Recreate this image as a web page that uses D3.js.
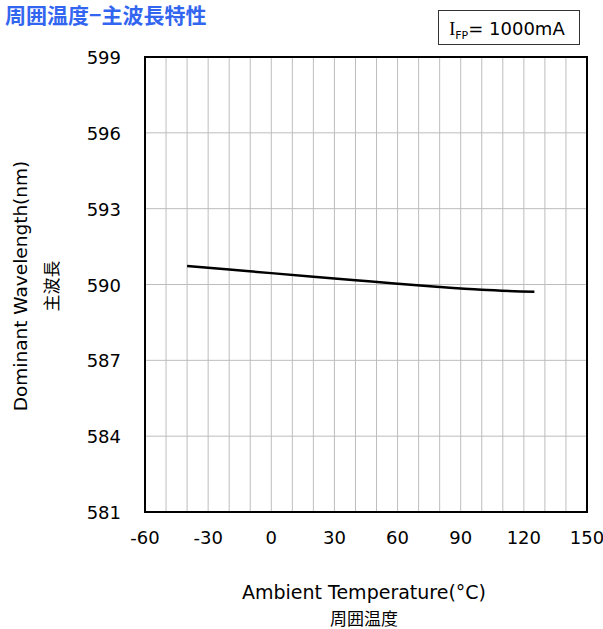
<!DOCTYPE html>
<html>
<head>
<meta charset="utf-8">
<script src="https://cdn.jsdelivr.net/npm/d3@7"></script>
<style>
  body { margin: 0; background: #fff; }
  text { font-family: "DejaVu Sans", Verdana, sans-serif; }
</style>
</head>
<body>
<div id="chart"></div>
<script>
// temperature (°C) vs dominant wavelength (nm)
var temps = [-40, -20, 0, 20, 40, 60, 80, 100, 125];
var waves = [590.73, 590.59, 590.45, 590.31, 590.17, 590.03, 589.90, 589.79, 589.71];
var xTicks = [-60, -30, 0, 30, 60, 90, 120, 150];
var yTicks = [581, 584, 587, 590, 593, 596, 599];

var width = 603, height = 629;
var margin = { left: 145, right: 16, top: 57, bottom: 117 };
var innerW = width - margin.left - margin.right;
var innerH = height - margin.top - margin.bottom;

var svg = d3.select("#chart").append("svg")
    .attr("width", width)
    .attr("height", height);

var x = d3.scaleLinear().domain([-60, 150]).range([0, innerW]);
var y = d3.scaleLinear().domain([581, 599]).range([innerH, 0]);

var g = svg.append("g")
    .attr("transform", "translate(" + margin.left + "," + margin.top + ")");

// vertical grid every 10 degrees
g.selectAll("line.vgrid")
    .data(d3.range(-50, 150, 10))
    .enter().append("line")
    .attr("class", "vgrid")
    .attr("x1", x).attr("x2", x)
    .attr("y1", 0).attr("y2", innerH)
    .attr("stroke", "#bdbdbd").attr("stroke-width", 1);

// horizontal grid at each y tick
g.selectAll("line.hgrid")
    .data(yTicks.slice(1, -1))
    .enter().append("line")
    .attr("class", "hgrid")
    .attr("x1", 0).attr("x2", innerW)
    .attr("y1", y).attr("y2", y)
    .attr("stroke", "#bdbdbd").attr("stroke-width", 1);

// frame
g.append("rect")
    .attr("width", innerW).attr("height", innerH)
    .attr("fill", "none").attr("stroke", "#000").attr("stroke-width", 2);

// tick labels
g.selectAll("text.xt")
    .data(xTicks)
    .enter().append("text")
    .attr("class", "xt")
    .attr("x", x).attr("y", innerH + 32)
    .attr("text-anchor", "middle")
    .attr("font-size", 18)
    .text(function(d) { return d; });

g.selectAll("text.yt")
    .data(yTicks)
    .enter().append("text")
    .attr("class", "yt")
    .attr("x", -24).attr("y", function(d) { return y(d) + 7; })
    .attr("text-anchor", "end")
    .attr("font-size", 18)
    .text(function(d) { return d; });

// curve
var line = d3.line()
    .x(function(d, i) { return x(temps[i]); })
    .y(function(d) { return y(d); })
    .curve(d3.curveMonotoneX);

g.append("path")
    .datum(waves)
    .attr("d", line)
    .attr("fill", "none")
    .attr("stroke", "#000")
    .attr("stroke-width", 2.5);

// title
svg.append("text")
    .attr("x", 5).attr("y", 23)
    .attr("font-size", 21).attr("font-weight", "bold")
    .attr("fill", "#3366f0")
    .style("font-family", "'Noto Sans CJK JP', sans-serif")
    .text("周囲温度−主波長特性");

// condition box
svg.append("rect")
    .attr("x", 438.5).attr("y", 10.5)
    .attr("width", 141).attr("height", 34)
    .attr("fill", "#fff").attr("stroke", "#333").attr("stroke-width", 1);

var cond = svg.append("text")
    .attr("x", 507).attr("y", 35)
    .attr("text-anchor", "middle")
    .attr("font-size", 18);
cond.append("tspan").style("font-family", "'Liberation Serif', serif").text("I");
cond.append("tspan").attr("font-size", 11).attr("dy", 4).text("FP");
cond.append("tspan").attr("dy", -4).text("= 1000mA");

// axis titles
svg.append("text")
    .attr("x", 364).attr("y", 599)
    .attr("text-anchor", "middle")
    .attr("font-size", 19)
    .text("Ambient Temperature(°C)");
svg.append("text")
    .attr("x", 364).attr("y", 625)
    .attr("text-anchor", "middle")
    .attr("font-size", 17)
    .style("font-family", "'Noto Sans CJK JP', sans-serif")
    .text("周囲温度");

svg.append("text")
    .attr("transform", "translate(27,286) rotate(-90)")
    .attr("text-anchor", "middle")
    .attr("font-size", 18.5)
    .text("Dominant Wavelength(nm)");
svg.append("text")
    .attr("transform", "translate(58,286) rotate(-90)")
    .attr("text-anchor", "middle")
    .attr("font-size", 17)
    .style("font-family", "'Noto Sans CJK JP', sans-serif")
    .text("主波長");
</script>
</body>
</html>
